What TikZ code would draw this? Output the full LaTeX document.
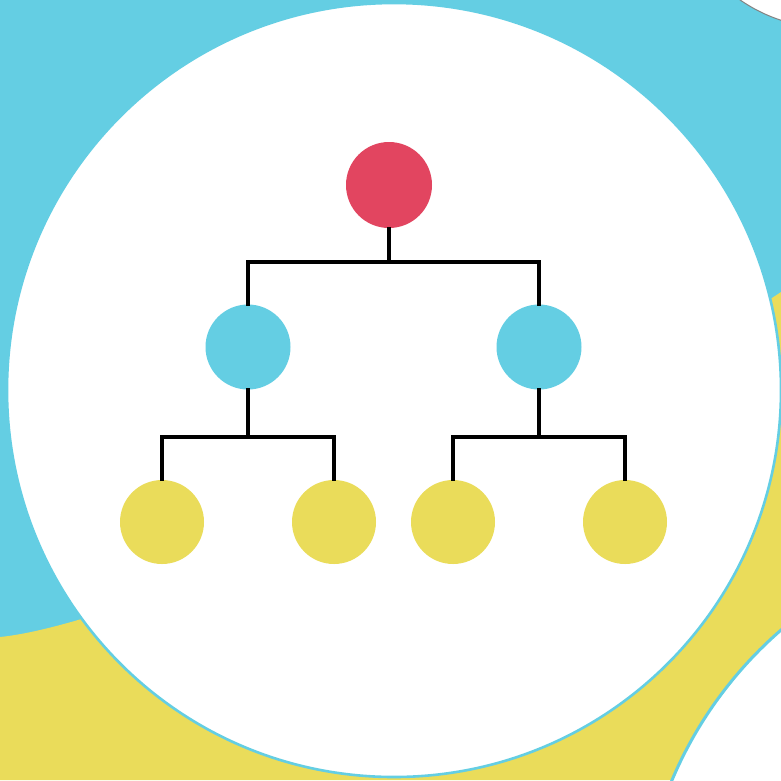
\documentclass[tikz,border=0pt]{standalone}
\usepackage{tikz}
\definecolor{skyblue}{RGB}{100,206,227}
\definecolor{sunyellow}{RGB}{234,220,90}
\definecolor{rootred}{RGB}{226,69,96}
\definecolor{rimgray}{RGB}{130,130,130}
\tikzset{
  dot/.style={circle, minimum size=85pt, inner sep=0pt, draw=none},
  rootdot/.style={dot, fill=rootred, minimum size=86pt},
  middot/.style={dot, fill=skyblue},
  leafdot/.style={dot, fill=sunyellow, minimum size=84pt},
  link/.style={line width=3.3pt, black, line join=miter, line cap=rect},
}
\begin{document}
\begin{tikzpicture}[x=1pt, y=-1pt]
  \useasboundingbox (0,0) rectangle (781,780);
  \clip (0,0) rectangle (781,780);
  % backdrop
  \fill[skyblue] (0,0) rectangle (781,780);
  % yellow ground
  \fill[sunyellow] (0,637) .. controls (150,622) and (620,400) .. (781,292)
    -- (781,780) -- (0,780) -- cycle;
  % corner discs
  \filldraw[fill=white, draw=rimgray, line width=1pt] (830,-130) circle (158);
  \filldraw[fill=white, draw=skyblue, line width=3pt] (1049,939) circle (409);
  % main disc
  \filldraw[fill=white, draw=skyblue, line width=2.6pt] (394,390) circle (387);

  % tree
  \node[rootdot] (root) at (389,185) {};
  \node[middot] (m1) at (248,347) {};
  \node[middot] (m2) at (539,347) {};
  \node[leafdot] (l1) at (162,522) {};
  \node[leafdot] (l2) at (334,522) {};
  \node[leafdot] (l3) at (453,522) {};
  \node[leafdot] (l4) at (625,522) {};

  \coordinate (bus0) at (389,262);
  \coordinate (bus1) at (248,437);
  \coordinate (bus2) at (539,437);

  \draw[link] (root.south) -- (bus0);
  \draw[link] (m1.north) -- (m1.north |- bus0) -- (m2.north |- bus0) -- (m2.north);

  \draw[link] (m1.south) -- (bus1);
  \draw[link] (l1.north) -- (l1.north |- bus1) -- (l2.north |- bus1) -- (l2.north);

  \draw[link] (m2.south) -- (bus2);
  \draw[link] (l3.north) -- (l3.north |- bus2) -- (l4.north |- bus2) -- (l4.north);
\end{tikzpicture}
\end{document}
